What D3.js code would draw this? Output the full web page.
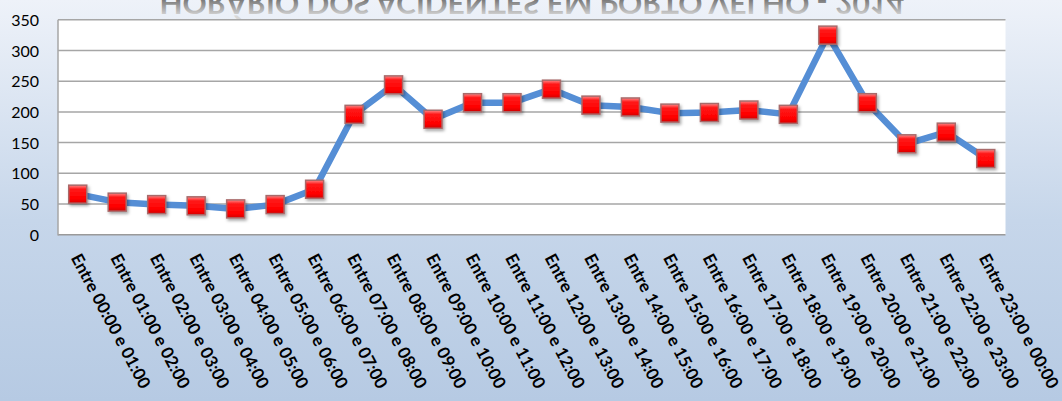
<!DOCTYPE html>
<html>
<head>
<meta charset="utf-8">
<script src="https://cdn.jsdelivr.net/npm/d3@7"></script>
<style>
html,body{margin:0;padding:0;overflow:hidden;}
svg{display:block;}
</style>
</head>
<body>
<svg id="chart" width="1062" height="401"></svg>
<script>
const title = "HORÁRIO DOS ACIDENTES EM PORTO VELHO - 2014";
const categories = [
  "Entre 00:00 e 01:00","Entre 01:00 e 02:00","Entre 02:00 e 03:00","Entre 03:00 e 04:00",
  "Entre 04:00 e 05:00","Entre 05:00 e 06:00","Entre 06:00 e 07:00","Entre 07:00 e 08:00",
  "Entre 08:00 e 09:00","Entre 09:00 e 10:00","Entre 10:00 e 11:00","Entre 11:00 e 12:00",
  "Entre 12:00 e 13:00","Entre 13:00 e 14:00","Entre 14:00 e 15:00","Entre 15:00 e 16:00",
  "Entre 16:00 e 17:00","Entre 17:00 e 18:00","Entre 18:00 e 19:00","Entre 19:00 e 20:00",
  "Entre 20:00 e 21:00","Entre 21:00 e 22:00","Entre 22:00 e 23:00","Entre 23:00 e 00:00"
];
const values = [66, 53, 49, 47, 42, 49, 74, 196, 244, 188, 215, 215, 237, 211, 208, 198, 199, 203, 196, 325, 215, 148, 167, 124];
const yTicks = [0, 50, 100, 150, 200, 250, 300, 350];

const W = 1062, H = 401;
const plot = {left: 58, right: 1005.5, top: 19.8, bottom: 234.7};

const svg = d3.select("#chart");
const defs = svg.append("defs");

// background gradient
const bg = defs.append("linearGradient").attr("id","bg").attr("x1",0).attr("y1",0).attr("x2",0).attr("y2",1);
bg.append("stop").attr("offset","0%").attr("stop-color","#eef2f9");
bg.append("stop").attr("offset","55%").attr("stop-color","#c6d6ea");
bg.append("stop").attr("offset","100%").attr("stop-color","#b6cae3");

// title gradient (in flipped coordinates: screen y = -7 - ty)
const tg = defs.append("linearGradient").attr("id","tg").attr("gradientUnits","userSpaceOnUse")
  .attr("x1",0).attr("y1",-7).attr("x2",0).attr("y2",-23);
tg.append("stop").attr("offset","0%").attr("stop-color","#7a7a7a");
tg.append("stop").attr("offset","100%").attr("stop-color","#d8d8d8");

// marker gradient
const mg = defs.append("linearGradient").attr("id","mg").attr("x1",0).attr("y1",0).attr("x2",0).attr("y2",1);
mg.append("stop").attr("offset","0%").attr("stop-color","#ff8a8a");
mg.append("stop").attr("offset","22%").attr("stop-color","#ff1a1a");
mg.append("stop").attr("offset","75%").attr("stop-color","#ff0000");
mg.append("stop").attr("offset","100%").attr("stop-color","#d40000");

const sh = defs.append("filter").attr("id","shadow").attr("x","-50%").attr("y","-50%").attr("width","200%").attr("height","200%");
sh.append("feDropShadow").attr("dx",1.5).attr("dy",2).attr("stdDeviation",1.5).attr("flood-color","#000").attr("flood-opacity",0.35);

svg.append("rect").attr("width",W).attr("height",H).attr("fill","url(#bg)");

// mirrored title (reflection) at top, partly cut off as in the reference
svg.append("text")
  .attr("transform","translate(0,-7) scale(1,-1)")
  .attr("x", 532).attr("y", 0)
  .attr("text-anchor","middle")
  .attr("font-family","Lato, 'Open Sans', sans-serif")
  .attr("font-weight","bold")
  .attr("font-size",29)
  .attr("textLength",745)
  .attr("lengthAdjust","spacingAndGlyphs")
  .attr("fill","url(#tg)")
  .text(title);

const x = d3.scaleBand().domain(categories).range([plot.left, plot.right]).padding(0);
const y = d3.scaleLinear().domain([0, 350]).range([plot.bottom, plot.top]);

// plot area
svg.append("rect").attr("x",plot.left).attr("y",plot.top)
  .attr("width",plot.right-plot.left).attr("height",plot.bottom-plot.top).attr("fill","#ffffff");

// gridlines
svg.append("g").selectAll("line").data(yTicks).join("line")
  .attr("x1",plot.left).attr("x2",plot.right)
  .attr("y1",d=>y(d)).attr("y2",d=>y(d))
  .attr("stroke", d => d===0 ? "#9a9a9a" : "#a6a6a6")
  .attr("stroke-width",1.5);

// left axis line
svg.append("line").attr("x1",plot.left).attr("x2",plot.left)
  .attr("y1",plot.top).attr("y2",plot.bottom+0.75)
  .attr("stroke","#a6a6a6").attr("stroke-width",1.5);

// y axis labels
const yAxis = d3.axisLeft(y).tickValues(yTicks).tickSize(0).tickPadding(0);
const ga = svg.append("g").attr("transform",`translate(39,0)`).call(yAxis);
ga.select(".domain").remove();
ga.selectAll("text").attr("font-family","Lato, 'Open Sans', sans-serif")
  .attr("font-size",16).attr("fill","#000").attr("dy","0.35em");

// x labels
svg.append("g").selectAll("text").data(categories).join("text")
  .attr("transform", d => `translate(${x(d)+x.bandwidth()/2 - 2},255) rotate(62)`)
  .attr("x",0).attr("dy","0.35em")
  .attr("text-anchor","start")
  .attr("font-family","Lato, 'Open Sans', sans-serif")
  .attr("font-weight","bold")
  .attr("font-size",17)
  .attr("fill","#000")
  .text(d=>d);

// line
const pts = categories.map((c,i)=>({c, v: values[i]}));
const line = d3.line().x(d=>x(d.c)+x.bandwidth()/2).y(d=>y(d.v));
svg.append("path").datum(pts).attr("d",line)
  .attr("fill","none").attr("stroke","#558ed5").attr("stroke-width",6.5)
  .attr("stroke-linejoin","round").attr("stroke-linecap","round");

// markers
const ms = 18;
svg.append("g").selectAll("rect").data(pts).join("rect")
  .attr("x", d=>x(d.c)+x.bandwidth()/2 - ms/2)
  .attr("y", d=>y(d.v) - ms/2)
  .attr("width",ms).attr("height",ms)
  .attr("fill","url(#mg)")
  .attr("stroke","#a86a6a").attr("stroke-width",1.5)
  .attr("filter","url(#shadow)");
</script>
</body>
</html>
